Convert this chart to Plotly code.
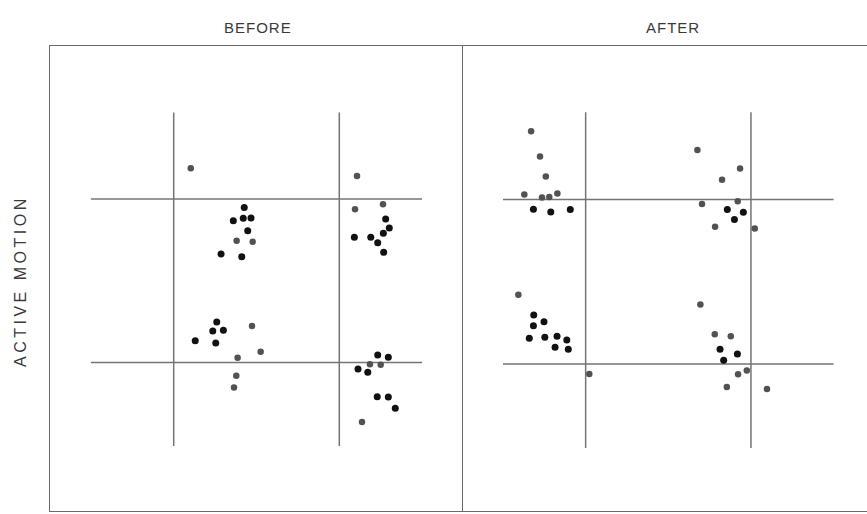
import plotly.graph_objects as go

# Panel titles and axis label
panel_titles = ["BEFORE", "AFTER"]
y_label = "ACTIVE MOTION"

# Reference crosshair positions (same in both panels)
grid_x = [1.0, 2.0]
grid_y = [1.0, 2.0]
vertical_span = [0.49, 2.53]
horizontal_span = [0.50, 2.50]

# BEFORE panel points
before_dark_x = [1.426, 1.360, 1.420, 1.467, 1.447, 1.286, 1.411,
                 2.280, 2.302, 2.266, 2.091, 2.190, 2.232, 2.268,
                 1.260, 1.236, 1.300, 1.130, 1.254,
                 2.232, 2.296, 2.113, 2.172, 2.229, 2.296, 2.338]
before_dark_y = [1.949, 1.867, 1.882, 1.884, 1.806, 1.664, 1.647,
                 1.878, 1.823, 1.790, 1.766, 1.766, 1.733, 1.674,
                 1.248, 1.193, 1.197, 1.133, 1.119,
                 1.046, 1.032, 0.960, 0.940, 0.791, 0.789, 0.720]
before_grey_x = [1.103, 1.380, 1.477, 2.107, 2.095, 2.264,
                 1.473, 1.525, 1.386, 1.378, 1.364, 2.185, 2.250, 2.137]
before_grey_y = [2.188, 1.745, 1.739, 2.141, 1.937, 1.968,
                 1.223, 1.066, 1.029, 0.919, 0.848, 0.989, 0.987, 0.636]

# AFTER panel points
after_dark_x = [0.684, 0.789, 0.907, 1.857, 1.954, 1.900,
                0.686, 0.748, 0.684, 0.659, 0.753, 0.827, 0.886, 0.815, 0.895,
                1.813, 1.918, 1.835]
after_dark_y = [1.940, 1.924, 1.939, 1.939, 1.922, 1.878,
                1.299, 1.257, 1.233, 1.157, 1.163, 1.169, 1.147, 1.102, 1.090,
                1.090, 1.062, 1.023]
after_grey_x = [0.670, 0.724, 0.759, 0.629, 0.736, 0.780, 0.829,
                1.676, 1.934, 1.825, 1.704, 1.920, 1.783, 2.023,
                0.593, 1.022, 1.694, 1.781, 1.878, 1.975, 1.922, 1.854, 2.097]
after_grey_y = [2.415, 2.261, 2.139, 2.030, 2.012, 2.015, 2.036,
                2.301, 2.188, 2.119, 1.973, 1.989, 1.835, 1.823,
                1.421, 0.940, 1.362, 1.181, 1.169, 0.962, 0.938, 0.861, 0.849]

DARK = "#111111"
GREY = "#525252"
LINE = "#747474"
FRAME = "#6a6a6a"

fig = go.Figure()


def add_panel(xa, ya, dark_x, dark_y, grey_x, grey_y):
    # crosshair lines
    vx, vy = [], []
    for gx in grid_x:
        vx += [gx, gx, None]
        vy += [vertical_span[0], vertical_span[1], None]
    for gy in grid_y:
        vx += [horizontal_span[0], horizontal_span[1], None]
        vy += [gy, gy, None]
    fig.add_trace(go.Scatter(x=vx, y=vy, mode="lines", xaxis=xa, yaxis=ya,
                             line=dict(color=LINE, width=1.5),
                             hoverinfo="skip", showlegend=False))
    fig.add_trace(go.Scatter(x=grey_x, y=grey_y, mode="markers", xaxis=xa, yaxis=ya,
                             marker=dict(color=GREY, size=6.5),
                             showlegend=False))
    fig.add_trace(go.Scatter(x=dark_x, y=dark_y, mode="markers", xaxis=xa, yaxis=ya,
                             marker=dict(color=DARK, size=7),
                             showlegend=False))


add_panel("x", "y", before_dark_x, before_dark_y, before_grey_x, before_grey_y)
add_panel("x2", "y2", after_dark_x, after_dark_y, after_grey_x, after_grey_y)

W, H = 867, 514
axis_common = dict(showgrid=False, zeroline=False, showticklabels=False,
                   ticks="", showline=True, mirror=True,
                   linecolor=FRAME, linewidth=1.3, fixedrange=True)

fig.update_layout(
    width=W, height=H,
    margin=dict(l=0, r=0, t=0, b=0),
    paper_bgcolor="white", plot_bgcolor="white",
    xaxis=dict(domain=[50 / W, 462 / W], range=[0.253, 2.741], **axis_common),
    yaxis=dict(domain=[1 - 511 / H, 1 - 46 / H], range=[0.092, 2.936], **axis_common),
    xaxis2=dict(domain=[462 / W, 1.0], range=[0.252, 2.702], anchor="y2", **axis_common),
    yaxis2=dict(domain=[1 - 511 / H, 1 - 46 / H], range=[0.108, 2.932], anchor="x2",
                **{**axis_common, "showline": False}),
)

title_font = dict(family="Liberation Sans, Arial, sans-serif", size=15, color="#3a3a3a")
for name, px in zip(panel_titles, [258, 673]):
    fig.add_annotation(text='<span style="letter-spacing:1px">' + name + "</span>",
                       xref="paper", yref="paper", x=px / W, y=1 - 27 / H,
                       xanchor="center", yanchor="middle",
                       showarrow=False, font=title_font)
fig.add_annotation(text='<span style="letter-spacing:3.5px">' + y_label + "</span>",
                   xref="paper", yref="paper",
                   x=20 / W, y=1 - 281 / H, xanchor="center", yanchor="middle",
                   showarrow=False, textangle=-90,
                   font=dict(family="Liberation Sans, Arial, sans-serif", size=16,
                             color="#3a3a3a"))

fig.write_html("out.html")
